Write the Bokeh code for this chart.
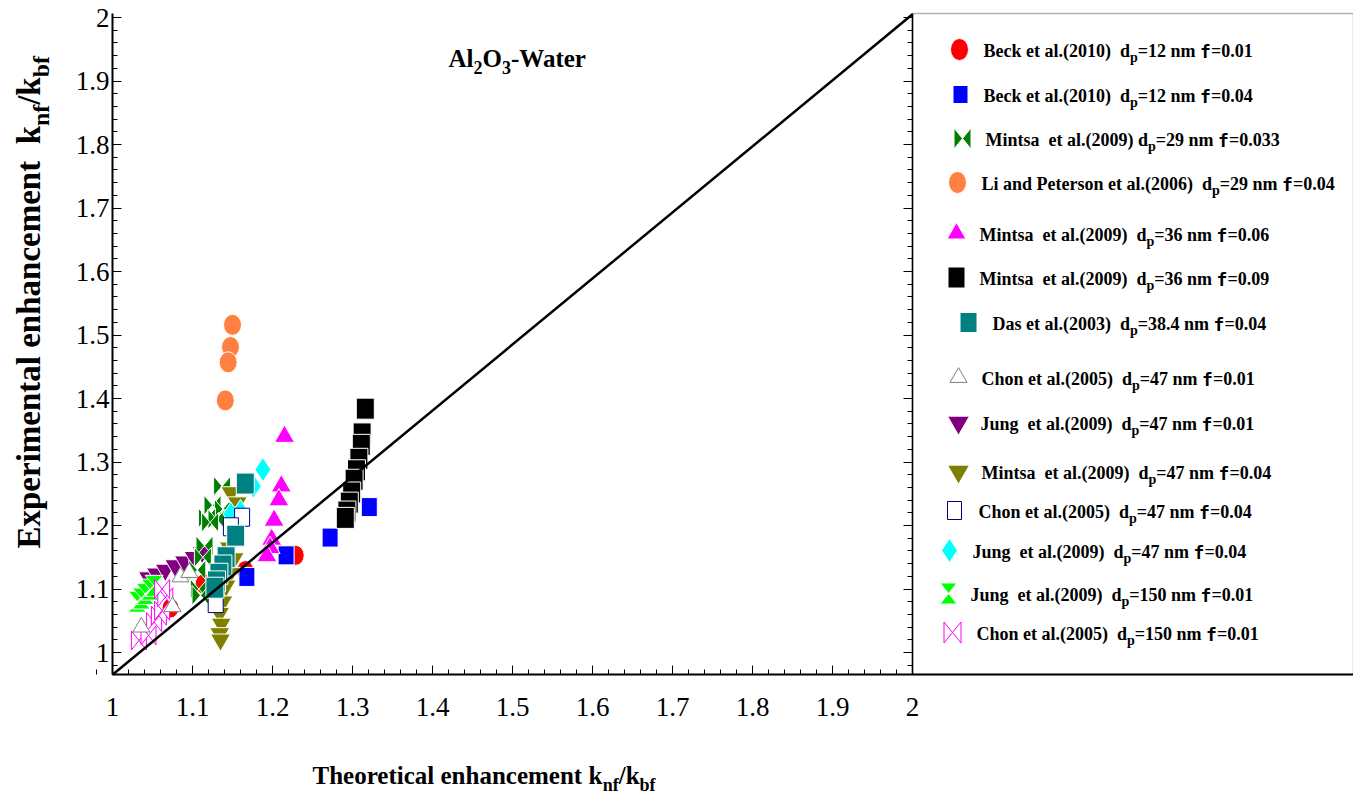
import re
import math
from bokeh.plotting import figure
from bokeh.models import Range1d, FixedTicker, Label, BoxAnnotation, ColumnDataSource, LinearAxis
from bokeh.core.properties import value
from bokeh.embed import file_html
from bokeh.resources import INLINE

# ------------------------------------------------------------------ data
tick_values = [1, 1.1, 1.2, 1.3, 1.4, 1.5, 1.6, 1.7, 1.8, 1.9, 2]
tick_labels = ["1", "1.1", "1.2", "1.3", "1.4", "1.5", "1.6", "1.7", "1.8", "1.9", "2"]
minor_values = [0.98, 1.02, 1.04, 1.06, 1.08, 1.12, 1.14, 1.16, 1.18, 1.22, 1.24, 1.26, 1.28,
                1.32, 1.34, 1.36, 1.38, 1.42, 1.44, 1.46, 1.48, 1.52, 1.54, 1.56, 1.58,
                1.62, 1.64, 1.66, 1.68, 1.72, 1.74, 1.76, 1.78, 1.82, 1.84, 1.86, 1.88,
                1.92, 1.94, 1.96, 1.98]

beck01_x = [1.0725, 1.114, 1.166, 1.229]
beck01_y = [1.070, 1.108, 1.129, 1.153]
beck04_x = [1.168, 1.217, 1.272, 1.321]
beck04_y = [1.119, 1.153, 1.181, 1.229]
mintsa29_x = [1.137, 1.125, 1.138, 1.118, 1.130, 1.122, 1.115, 1.113, 1.106, 1.108, 1.110]
mintsa29_y = [1.262, 1.232, 1.226, 1.212, 1.210, 1.205, 1.168, 1.150, 1.130, 1.100, 1.090]
li_x = [1.150, 1.1475, 1.1446, 1.141]
li_y = [1.516, 1.481, 1.457, 1.397]
mintsa36a_x = [1.215, 1.211, 1.208, 1.202, 1.199, 1.197, 1.193]
mintsa36a_y = [1.340, 1.262, 1.240, 1.208, 1.178, 1.165, 1.152]
mintsa36b_x = [1.316, 1.312, 1.311, 1.308, 1.305, 1.302, 1.299, 1.296, 1.293, 1.291]
mintsa36b_y = [1.384, 1.345, 1.327, 1.305, 1.287, 1.272, 1.252, 1.236, 1.222, 1.212]
das_x = [1.166, 1.154, 1.142, 1.138, 1.133, 1.130, 1.128]
das_y = [1.266, 1.184, 1.150, 1.137, 1.124, 1.112, 1.102]
chon47a_x = [1.036, 1.075, 1.085, 1.096]
chon47a_y = [1.040, 1.072, 1.119, 1.126]
jung47a_x = [1.045, 1.055, 1.066, 1.078, 1.090, 1.102, 1.112]
jung47a_y = [1.118, 1.124, 1.130, 1.137, 1.143, 1.150, 1.158]
mintsa47_x = [1.148, 1.156, 1.146, 1.152, 1.147, 1.142, 1.138, 1.134, 1.136, 1.134, 1.135]
mintsa47_y = [1.252, 1.236, 1.165, 1.148, 1.125, 1.105, 1.080, 1.062, 1.045, 1.030, 1.020]
chon47b_x = [1.162, 1.148, 1.129]
chon47b_y = [1.213, 1.198, 1.077]
jung47b_x = [1.188, 1.176, 1.160, 1.148]
jung47b_y = [1.288, 1.262, 1.222, 1.218]
jung150_x = [1.031, 1.036, 1.041, 1.047, 1.052]
jung150_y = [1.080, 1.085, 1.092, 1.099, 1.105]
chon150_x = [1.033, 1.045, 1.052, 1.058, 1.062, 1.066, 1.062]
chon150_y = [1.019, 1.027, 1.048, 1.058, 1.066, 1.087, 1.100]

parity_x = [1.0, 2.0]
parity_y = [0.965, 2.005]

legend_authors = ["Beck et al.(2010)", "Beck et al.(2010)", "Mintsa  et al.(2009)",
                  "Li and Peterson et al.(2006)", "Mintsa  et al.(2009)", "Mintsa  et al.(2009)",
                  "Das et al.(2003)", "Chon et al.(2005)", "Jung  et al.(2009)",
                  "Mintsa  et al.(2009)", "Chon et al.(2005)", "Jung  et al.(2009)",
                  "Jung  et al.(2009)", "Chon et al.(2005)"]
legend_dp = ["12", "12", "29", "29", "36", "36", "38.4", "47", "47", "47", "47", "47", "150", "150"]
legend_phi = ["0.01", "0.04", "0.033", "0.04", "0.06", "0.09", "0.04", "0.01", "0.01", "0.04",
              "0.04", "0.04", "0.01", "0.01"]

# ------------------------------------------------------------------ layout (pixels)
W, H = 1353, 796
FL, FR, FT, FB = 112, 1353, 13, 674
PXX, PXY = 800.0, 635.0
Y2 = 17
BASE_FIX = 0.33   # empirical shift of the rendered alphabetic baseline (in em)


def X(px):
    return 1 + (px - FL) / PXX


def Y(py):
    return 2 - (py - Y2) / PXY


SERIF = "Liberation Serif"
MONO = "DejaVu Sans Mono"

TB = {' ': 250, '(': 333, ')': 333, '-': 333, '.': 250, '/': 278, '=': 570,
      'A': 722, 'B': 667, 'C': 722, 'D': 722, 'E': 667, 'J': 500, 'L': 667, 'M': 944,
      'O': 778, 'P': 611, 'T': 667, 'W': 1000,
      'a': 500, 'b': 556, 'c': 444, 'd': 556, 'e': 444, 'f': 333, 'g': 500, 'h': 556,
      'i': 278, 'k': 556, 'l': 278, 'm': 833, 'n': 556, 'o': 500, 'p': 556, 'r': 444,
      's': 389, 't': 333, 'u': 556, 'x': 500}
for _d in "0123456789":
    TB[_d] = 500


def text_width(s, kind, fs):
    if kind == 'f':
        return 0.602 * fs * len(s)
    return sum(TB.get(c, 500) for c in s) / 1000.0 * fs


def layout_runs(runs, size, sub_scale=0.72, sub_drop=0.28):
    out = []
    adv = 0.0
    for txt, kind in runs:
        fs = size * sub_scale if kind == 's' else size
        drop = size * sub_drop if kind == 's' else 0.0
        drop -= BASE_FIX * fs
        font = MONO if kind == 'f' else SERIF
        for m in re.finditer(r'\S+(?: \S+)*', txt):
            out.append((adv + text_width(txt[:m.start()], kind, fs), drop, m.group(), font, fs))
        adv += text_width(txt, kind, fs)
    return out


p = figure(width=W, height=H, x_range=Range1d(X(0), X(W)), y_range=Range1d(Y(H), Y(0)),
           output_backend="svg", toolbar_location=None, min_border=0)
p.outline_line_color = None
p.xgrid.visible = False
p.ygrid.visible = False
p.background_fill_color = "white"
p.border_fill_color = "white"

right_axis = LinearAxis()
p.add_layout(right_axis, "right")

for ax in (p.xaxis[0], p.yaxis[0], right_axis):
    ax.ticker = FixedTicker(ticks=tick_values, minor_ticks=minor_values)
    ax.major_tick_in = 9
    ax.major_tick_out = 0
    ax.minor_tick_in = 5
    ax.minor_tick_out = 0
    ax.axis_line_width = 2
    ax.axis_line_color = "black"
    ax.major_tick_line_color = "black"
    ax.minor_tick_line_color = "black"
    ax.major_label_text_font = SERIF
    ax.major_label_text_font_size = "27px"
    ax.major_label_text_color = "black"

p.xaxis[0].fixed_location = Y(FB)
p.xaxis[0].bounds = (X(FL), X(W))
p.xaxis[0].major_label_overrides = dict(zip(tick_values, tick_labels))
p.xaxis[0].major_label_standoff = 23
p.yaxis[0].fixed_location = X(FL)
p.yaxis[0].bounds = (Y(FB), Y(FT))
p.yaxis[0].major_label_overrides = dict(zip(tick_values, tick_labels))
p.yaxis[0].major_label_standoff = 3
right_axis.fixed_location = 2
right_axis.bounds = (Y(FB), Y(FT))
right_axis.axis_line_width = 1.5
right_axis.major_label_overrides = {v: "" for v in tick_values}

# legend box
p.add_layout(BoxAnnotation(left=2, right=X(W), top=Y(FT), bottom=Y(FB), fill_color=None,
                           line_color="black", line_width=1.5))


# ------------------------------------------------------------------ marker helpers
def draw(kind, xs, ys, st):
    if kind == "ellipse":
        p.ellipse(x=xs, y=ys, width=st["w"], height=st["h"], width_units="screen",
                  height_units="screen", fill_color=st["fill"], line_color=st.get("line", "white"),
                  line_width=1)
    elif kind == "rect":
        p.rect(x=xs, y=ys, width=st["w"], height=st["h"], width_units="screen",
               height_units="screen", fill_color=st["fill"], line_color=st.get("line", "white"),
               line_width=st.get("lw", 1))
    elif kind in ("bowtie", "hourglass"):
        hw = st["w"] / 2 / PXX
        hh = st["h"] / 2 / PXY
        if kind == "bowtie":
            pxs = [[x - hw, x - hw, x, x + hw, x + hw, x] for x in xs]
            pys = [[y - hh, y + hh, y, y + hh, y - hh, y] for y in ys]
        else:
            pxs = [[x - hw, x + hw, x, x + hw, x - hw, x] for x in xs]
            pys = [[y + hh, y + hh, y, y - hh, y - hh, y] for y in ys]
        p.patches(xs=pxs, ys=pys, fill_color=st["fill"], line_color=st.get("line", "white"),
                  line_width=st.get("lw", 1))
    else:
        p.scatter(x=xs, y=ys, marker=kind, size=st["size"], fill_color=st["fill"],
                  line_color=st.get("line", "white"), line_width=st.get("lw", 1))


series = [
    dict(x=beck01_x, y=beck01_y, kind="ellipse", st=dict(w=17, h=20, fill="#ff0000")),
    dict(x=beck04_x, y=beck04_y, kind="rect", st=dict(w=16, h=19, fill="#0000ff")),
    dict(x=mintsa29_x, y=mintsa29_y, kind="bowtie", st=dict(w=17, h=20, fill="#008000")),
    dict(x=li_x, y=li_y, kind="ellipse", st=dict(w=18, h=21, fill="#ff8040")),
    dict(x=mintsa36a_x, y=mintsa36a_y, kind="triangle", st=dict(size=20, fill="#ff00ff")),
    dict(x=mintsa36b_x, y=mintsa36b_y, kind="rect", st=dict(w=18, h=21, fill="#000000")),
    dict(x=das_x, y=das_y, kind="rect", st=dict(w=18, h=21, fill="#008080")),
    dict(x=chon47a_x, y=chon47a_y, kind="triangle", st=dict(size=17, fill="white", line="#808080")),
    dict(x=jung47a_x, y=jung47a_y, kind="inverted_triangle", st=dict(size=20, fill="#800080")),
    dict(x=mintsa47_x, y=mintsa47_y, kind="inverted_triangle", st=dict(size=20, fill="#808000")),
    dict(x=chon47b_x, y=chon47b_y, kind="rect", st=dict(w=15, h=18, fill="white", line="#000080")),
    dict(x=jung47b_x, y=jung47b_y, kind="diamond", st=dict(size=24, fill="#00ffff")),
    dict(x=jung150_x, y=jung150_y, kind="hourglass", st=dict(w=18, h=21, fill="#00ff00")),
    dict(x=chon150_x, y=chon150_y, kind="bowtie", st=dict(w=15, h=19, fill="white", line="#ff00ff")),
]

draw_order = [0, 1, 8, 12, 13, 2, 9, 11, 10, 6, 7, 3, 4, 5]
for i in draw_order:
    s = series[i]
    draw(s["kind"], s["x"], s["y"], s["st"])

p.line(parity_x, parity_y, line_color="black", line_width=2.5)

# ------------------------------------------------------------------ legend
leg_marker_px = [(959, 49), (960, 94), (962, 138), (957, 182), (956, 233), (956, 277), (968, 322),
                 (958, 377), (958, 422), (958, 471), (954, 510), (949, 550), (948, 593), (952, 632)]
leg_text_px = [983, 983, 985, 981, 979, 979, 992, 981, 980, 981, 978, 972, 970, 976]
leg_marker_scale = [dict(w=18, h=22), dict(w=15, h=18), dict(w=17, h=21), dict(w=18, h=22),
                    dict(size=19), dict(w=17, h=21), dict(w=17, h=20), dict(size=17),
                    dict(size=22), dict(size=22), dict(w=14, h=18), dict(size=24),
                    dict(w=17, h=21), dict(w=17, h=21)]

LS = 18
tx, ty, tt, tf, tfs = [], [], [], [], []
for i, s in enumerate(series):
    mx, my = leg_marker_px[i]
    st = dict(s["st"])
    st.update(leg_marker_scale[i])
    draw(s["kind"], [X(mx)], [Y(my)], st)
    gap = " " if i == 2 else "  "
    runs = [(legend_authors[i] + gap + "d", 'n'), ("p", 's'),
            ("=" + legend_dp[i] + " nm ", 'n'), ("f", 'f'), ("=" + legend_phi[i], 'n')]
    base = my + 7.5
    for adv, drop, txt, font, fs in layout_runs(runs, LS, sub_scale=0.78, sub_drop=0.3):
        tx.append(X(leg_text_px[i] + adv))
        ty.append(Y(base + drop))
        tt.append(txt)
        tf.append(font)
        tfs.append("%.1fpx" % fs)

src = ColumnDataSource(dict(x=tx, y=ty, text=tt, font=tf, fs=tfs))
p.text(x="x", y="y", text="text", source=src, text_font="font", text_font_size="fs",
       text_font_style=value("bold"), text_color="black", text_align="left",
       text_baseline="alphabetic")


# ------------------------------------------------------------------ titles
def add_runs(runs, size, x0, base, angle=0.0):
    for adv, drop, txt, font, fs in layout_runs(runs, size):
        if angle == 0.0:
            lx, ly = X(x0 + adv), Y(base + drop)
        else:
            lx, ly = X(base + drop), Y(x0 - adv)
        p.add_layout(Label(x=lx, y=ly, text=txt, text_font=font, text_font_style="bold",
                           text_font_size="%.1fpx" % fs, text_color="black", text_align="left",
                           text_baseline="alphabetic", angle=angle))


add_runs([("Al", 'n'), ("2", 's'), ("O", 'n'), ("3", 's'), ("-Water", 'n')], 25, 448, 66)
add_runs([("Theoretical enhancement k", 'n'), ("nf", 's'), ("/k", 'n'), ("bf", 's')], 25, 312, 783)
add_runs([("Experimental enhancement  k", 'n'), ("nf", 's'), ("/k", 'n'), ("bf", 's')], 33, 548, 39,
         angle=math.pi / 2)

open("out.html", "w").write(file_html(p, INLINE))
